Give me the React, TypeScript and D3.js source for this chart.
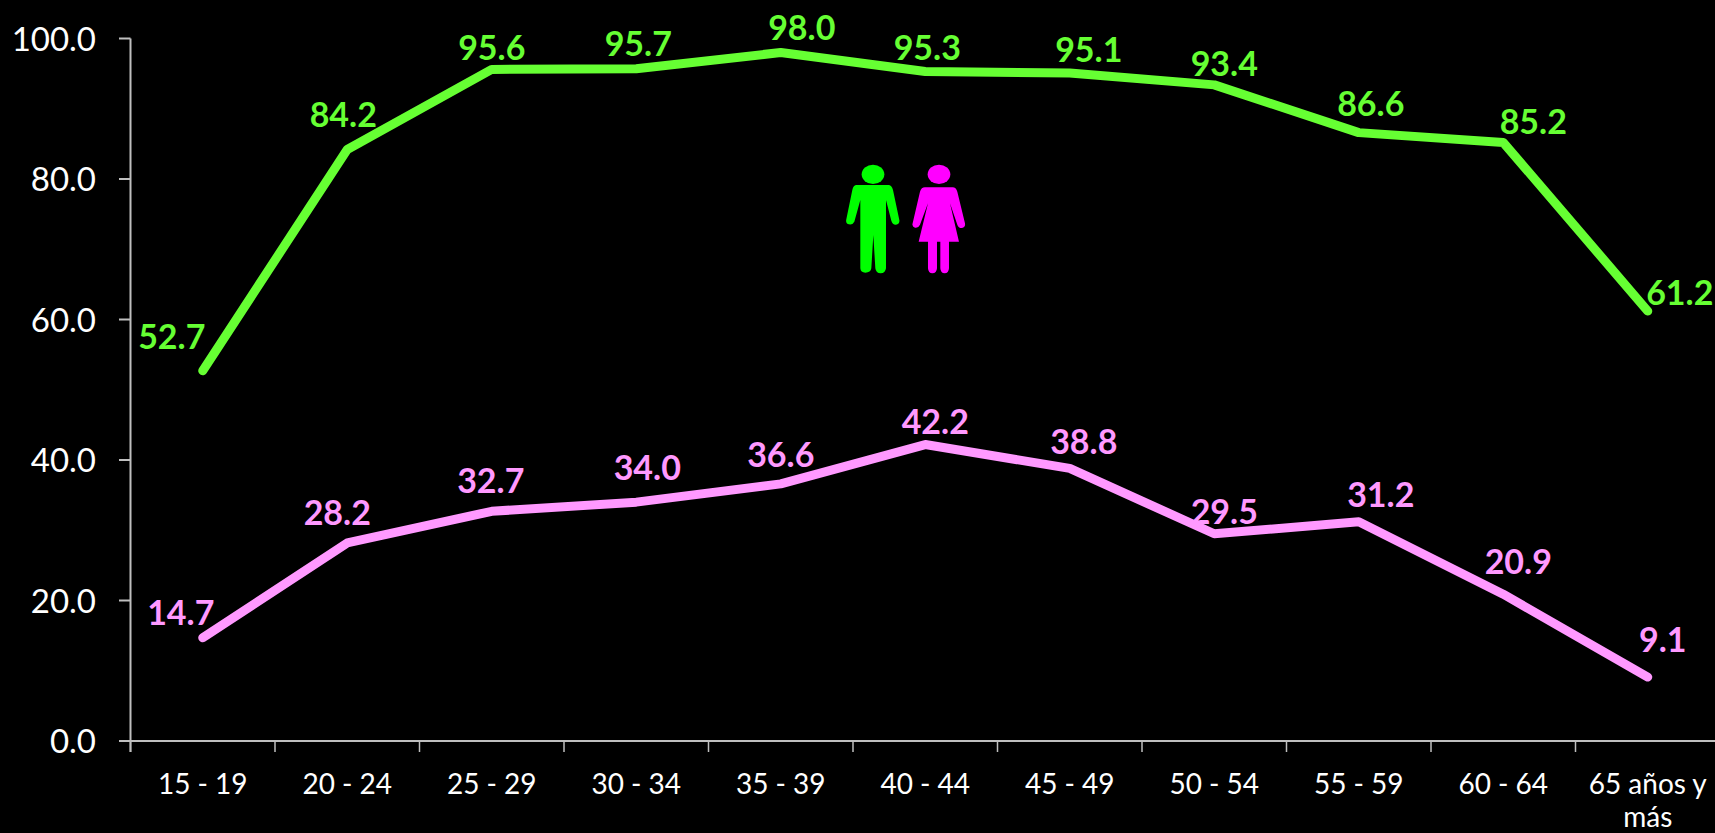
import React from "react";
import * as d3 from "d3";

const categories = ["15 - 19","20 - 24","25 - 29","30 - 34","35 - 39","40 - 44","45 - 49","50 - 54","55 - 59","60 - 64","65 años y más"];
const menValues = [52.7,84.2,95.6,95.7,98.0,95.3,95.1,93.4,86.6,85.2,61.2];
const womenValues = [14.7,28.2,32.7,34.0,36.6,42.2,38.8,29.5,31.2,20.9,9.1];
const yTicks = [0,20,40,60,80,100];

// label nudges relative to each point (manual placement in the original)
const menLabelDx = [-31,-4,0,2,21,2,19,10,12,30,32];
const menLabelDy = [-36,-36,-23.5,-27,-27,-25.6,-25,-23,-31,-22,-20];
const womenLabelDx = [-22,-10,-1,11,0,10,14,10,22,15,15];
const womenLabelDy = [-27,-32,-32,-36,-31,-24.6,-28,-24,-28.5,-34,-39];

const W = 1715, H = 833;
const FONT = "Lato, 'Open Sans', sans-serif";
const GREEN = "#66FF33", PINK = "#FF99FF", AXIS = "#BFBFBF";

const x = d3.scaleBand<string>().domain(categories).range([130.5, 130.5 + 144.5 * categories.length]);
const y = d3.scaleLinear().domain([0, 100]).range([741, 38.5]);
const cx = (i: number) => (x(categories[i]) as number) + x.bandwidth() / 2;
const line = d3.line<number>().x((_, i) => cx(i)).y((d) => y(d));

function Series({ values, color, dx, dy }: { values: number[]; color: string; dx: number[]; dy: number[] }) {
  return (
    <g>
      <path d={line(values) as string} fill="none" stroke={color} strokeWidth={9} strokeLinecap="round" strokeLinejoin="round" />
      {values.map((v, i) => (
        <text key={i} x={cx(i) + dx[i]} y={y(v) + dy[i] + 0.5} fill={color} fontFamily={FONT} fontWeight={700} fontSize={34} textAnchor="middle" dominantBaseline="central">
          {v.toFixed(1)}
        </text>
      ))}
    </g>
  );
}

export default function App() {
  return (
    <svg width={W} height={H} viewBox={`0 0 ${W} ${H}`} style={{ position: "fixed", left: 0, top: 0, background: "#000", display: "block" }}>
      <rect width={W} height={H} fill="#000" />
      <line x1={130.5} x2={130.5} y1={y(100)} y2={y(0) + 11} stroke={AXIS} strokeWidth={2} />
      <line x1={119} x2={W} y1={y(0)} y2={y(0)} stroke={AXIS} strokeWidth={2} />
      {yTicks.map((t) => (
        <g key={t}>
          <line x1={119} x2={130.5} y1={y(t)} y2={y(t)} stroke={AXIS} strokeWidth={2} />
          <text x={96} y={y(t) - 1} fill="#fff" fontFamily={FONT} fontSize={33} textAnchor="end" dominantBaseline="central">
            {t.toFixed(1)}
          </text>
        </g>
      ))}
      {categories.map((c, i) => {
        const left = x(c) as number;
        const isLast = i === categories.length - 1;
        return (
          <g key={c}>
            <line x1={left} x2={left} y1={y(0)} y2={y(0) + 11} stroke={AXIS} strokeWidth={1.5} />
            {isLast ? (
              <text fill="#fff" fontFamily={FONT} fontSize={28} textAnchor="middle">
                <tspan x={cx(i)} y={794}>65 años y</tspan>
                <tspan x={cx(i)} y={826.5}>más</tspan>
              </text>
            ) : (
              <text x={cx(i)} y={794} fill="#fff" fontFamily={FONT} fontSize={28} textAnchor="middle">{c}</text>
            )}
          </g>
        );
      })}
      <Series values={menValues} color={GREEN} dx={menLabelDx} dy={menLabelDy} />
      <Series values={womenValues} color={PINK} dx={womenLabelDx} dy={womenLabelDy} />
      <g transform="translate(800,140) scale(0.3333)">
        <ellipse cx={219} cy={103} rx={34} ry={29} fill="#00FF00" />
        <path fill="#00FF00" d="M170 135 L265 135 Q275 135 279 150 L298 240 Q300 252 288 254 Q278 255 274 242 L258 180 L258 385 Q256 400 242 400 Q228 400 226 385 L220 285 L214 385 Q212 398 196 398 Q182 398 181 385 L181 180 L163 245 Q158 255 147 253 Q136 250 139 238 L157 150 Q160 135 170 135 Z" />
        <ellipse cx={417} cy={103} rx={34} ry={29} fill="#FF00FF" />
        <path fill="#FF00FF" d="M375 142 L458 142 Q468 142 472 155 L495 250 Q497 262 486 264 Q476 265 472 254 L450 190 L477 305 L447 305 L447 385 Q446 400 434 400 Q422 400 421 385 L421 305 L411 305 L411 385 Q410 400 397 400 Q385 400 384 385 L384 305 L356 305 L384 190 L360 254 Q355 265 345 263 Q335 260 338 250 L360 155 Q364 142 375 142 Z" />
      </g>
    </svg>
  );
}
